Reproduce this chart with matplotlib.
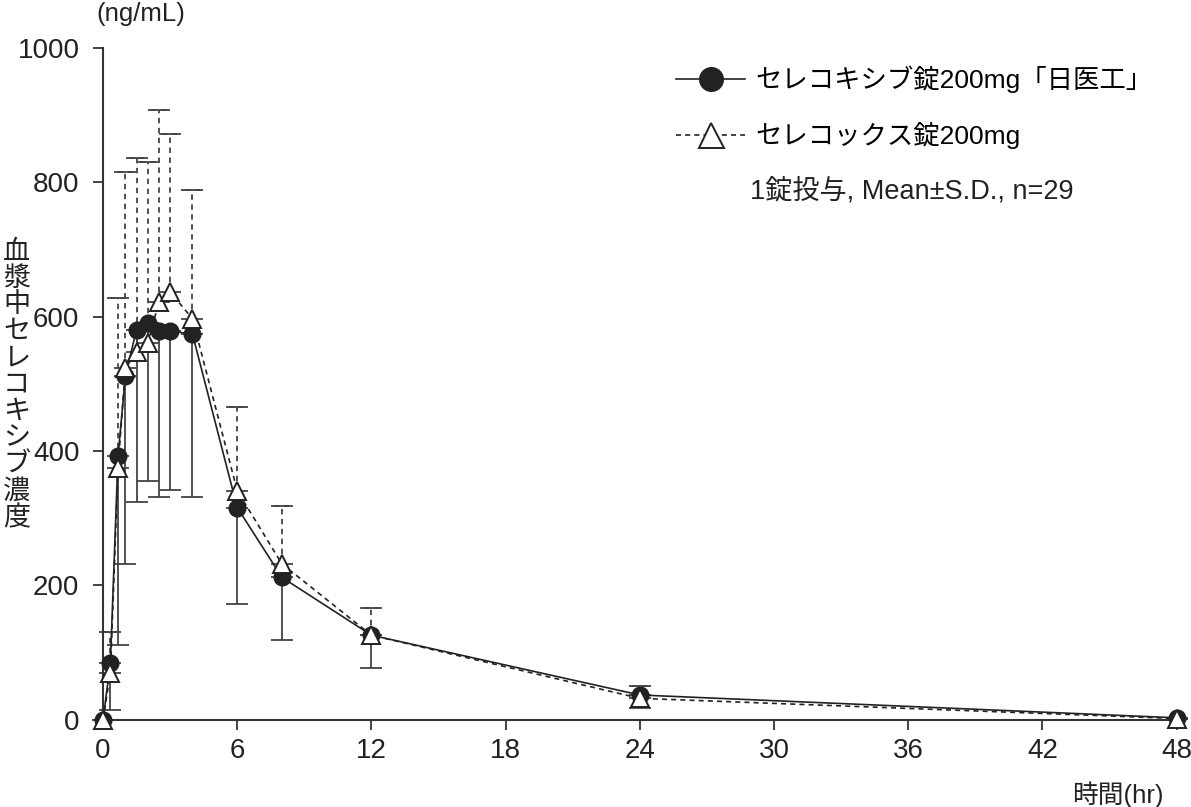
import numpy as np
import matplotlib
matplotlib.use('Agg')
import matplotlib.pyplot as plt
from matplotlib.lines import Line2D

plt.rcParams['font.family'] = ['Liberation Sans', 'Noto Sans CJK JP',
                               'DejaVu Sans']

# data
t_hr = [0, 0.33, 0.67, 1, 1.5, 2, 2.5, 3, 4, 6, 8, 12, 24, 48]
generic_mean = [0, 85, 392, 512, 581, 591, 579, 579, 574, 316, 212, 126, 37, 3]
generic_sd = [0, 71, 281, 280, 257, 236, 248, 237, 243, 144, 93, 49, 19, 0]
brand_mean = [0, 70, 375, 524, 547, 561, 622, 637, 597, 341, 232, 126, 32, 2]
brand_sd = [0, 61, 253, 291, 290, 269, 286, 235, 192, 125, 86, 41, 19, 0]

label_generic = 'セレコキシブ錠200mg「日医工」'
label_brand = 'セレコックス錠200mg'
note = '1錠投与, Mean±S.D., n=29'
xticks = [0, 6, 12, 18, 24, 30, 36, 42, 48]
yticks = [0, 200, 400, 600, 800, 1000]

fs = 19.5
ink = '#222222'
dash = (0, (3, 2.5))
fig = plt.figure(figsize=(11.91, 8.07), dpi=100)
ax = fig.add_axes([0.0865, 0.108, 0.9015, 0.8325])

t = np.array(t_hr)
gm, gs = np.array(generic_mean), np.array(generic_sd)
bm, bs = np.array(brand_mean), np.array(brand_sd)
zero = np.zeros_like(gs)

# error bars: generic lower only (solid), brand upper only (dashed)
ax.errorbar(t, gm, yerr=[gs, zero], fmt='none', ecolor='#444444',
            elinewidth=1.3, capsize=8, capthick=1.3, zorder=2, clip_on=False)
eb2 = ax.errorbar(t, bm, yerr=[zero, bs], fmt='none', ecolor='#444444',
                  elinewidth=1.3, capsize=8, capthick=1.3, zorder=2,
                  clip_on=False)
eb2[2][0].set_linestyle(dash)
for cap in eb2[1]:
    cap.set_linestyle('none')
# dashed caps for brand
ax.hlines(bm + bs, t - 0.35, t + 0.35, colors='#444444', linewidth=1.3,
          linestyles=dash, zorder=2)

ax.plot(t, gm, color=ink, linewidth=1.2, marker='o', markersize=12,
        markerfacecolor=ink, markeredgecolor=ink, zorder=3, clip_on=False)
ax.plot(t, bm, color=ink, linewidth=1.2, linestyle=dash,
        marker='^', markersize=13, markerfacecolor='white',
        markeredgecolor=ink, markeredgewidth=1.4, zorder=4, clip_on=False)

ax.set_xlim(0, 48)
ax.set_ylim(0, 1000)
ax.set_xticks(xticks)
ax.set_yticks(yticks)
ax.tick_params(direction='out', length=7, width=1.2, labelsize=fs + 0.5,
               colors=ink)
ax.tick_params(axis='y', pad=10)
ax.tick_params(axis='x', pad=6)
for s in ['top', 'right']:
    ax.spines[s].set_visible(False)
for s in ['left', 'bottom']:
    ax.spines[s].set_linewidth(1.5)
    ax.spines[s].set_color('#333333')

handles = [
    Line2D([], [], color=ink, linewidth=1.2, marker='o', markersize=17,
           markerfacecolor=ink),
    Line2D([], [], color=ink, linewidth=1.2, linestyle=dash,
           marker='^', markersize=18, markerfacecolor='white',
           markeredgewidth=1.4),
]
ax.legend(handles, [label_generic, label_brand], loc='upper left',
          bbox_to_anchor=(0.518, 1.0), frameon=False, fontsize=fs - 0.5,
          handlelength=2.6, handletextpad=0.4, labelspacing=1.1,
          borderaxespad=0.25)
ax.text(0.603, 0.785, note, transform=ax.transAxes, fontsize=fs,
        ha='left', va='center', color=ink)

fig.text(0.081, 0.983, '(ng/mL)', fontsize=fs - 1, ha='left', va='center',
         color=ink)
fig.text(0.9, 0.015, '時間(hr)', fontsize=fs - 1, ha='left', va='center',
         color=ink)
fig.text(0.014, 0.523, '\n'.join('血漿中セレコキシブ濃度'), fontsize=fs,
         ha='center', va='center', linespacing=1.03, color=ink)

fig.savefig('out.png', dpi=100)
